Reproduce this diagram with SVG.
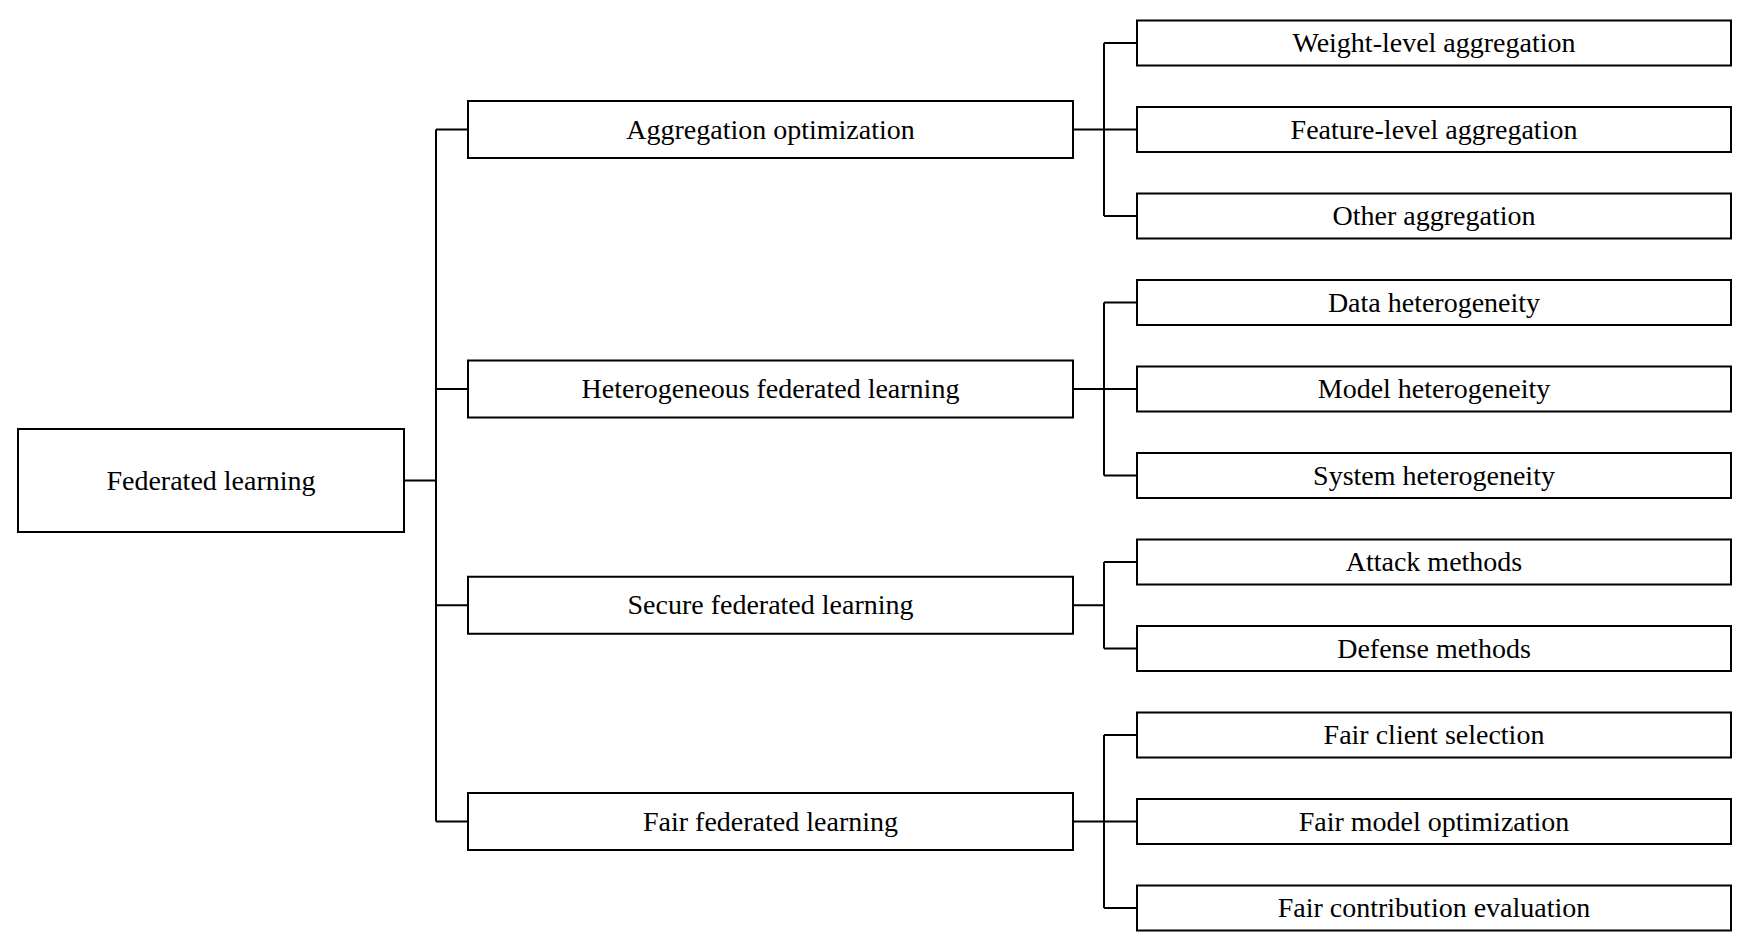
<svg xmlns="http://www.w3.org/2000/svg" width="1743" height="951" viewBox="0 0 1743 951">
<style>
.box{fill:#fff;stroke:#000;stroke-width:2}
.lbl{font-family:"Liberation Serif","Times New Roman",serif;font-size:28px;fill:#000;text-anchor:middle}
.con{fill:none;stroke:#000;stroke-width:2}
</style>
<rect width="1743" height="951" fill="#fff"/>
<g id="connectors" class="con">
<path d="M404,480.5H436M436,129.5V821.5M436,129.5H468M436,389H468M436,605.25H468M436,821.5H468"/>
<path d="M1073,129.5H1104M1104,43V216M1104,43H1137M1104,129.5H1137M1104,216H1137"/>
<path d="M1073,389H1104M1104,302.5V475.5M1104,302.5H1137M1104,389H1137M1104,475.5H1137"/>
<path d="M1073,605.25H1104M1104,562V648.5M1104,562H1137M1104,648.5H1137"/>
<path d="M1073,821.5H1104M1104,735V908M1104,735H1137M1104,821.5H1137M1104,908H1137"/>
</g>
<g id="root"><rect class="box" x="18" y="429" width="386" height="103"/><text class="lbl" x="211" y="489.5">Federated learning</text></g>
<g id="aggregation"><rect class="box" x="468" y="101" width="605" height="57"/><text class="lbl" x="770.5" y="138.5">Aggregation optimization</text></g>
<g id="heterogeneous"><rect class="box" x="468" y="360.5" width="605" height="57"/><text class="lbl" x="770.5" y="398">Heterogeneous federated learning</text></g>
<g id="secure"><rect class="box" x="468" y="576.75" width="605" height="57"/><text class="lbl" x="770.5" y="614.25">Secure federated learning</text></g>
<g id="fair"><rect class="box" x="468" y="793" width="605" height="57"/><text class="lbl" x="770.5" y="830.5">Fair federated learning</text></g>
<g id="weight"><rect class="box" x="1137" y="20.5" width="594" height="45"/><text class="lbl" x="1434" y="52">Weight-level aggregation</text></g>
<g id="feature"><rect class="box" x="1137" y="107" width="594" height="45"/><text class="lbl" x="1434" y="138.5">Feature-level aggregation</text></g>
<g id="other"><rect class="box" x="1137" y="193.5" width="594" height="45"/><text class="lbl" x="1434" y="225">Other aggregation</text></g>
<g id="data"><rect class="box" x="1137" y="280" width="594" height="45"/><text class="lbl" x="1434" y="311.5">Data heterogeneity</text></g>
<g id="model"><rect class="box" x="1137" y="366.5" width="594" height="45"/><text class="lbl" x="1434" y="398">Model heterogeneity</text></g>
<g id="system"><rect class="box" x="1137" y="453" width="594" height="45"/><text class="lbl" x="1434" y="484.5">System heterogeneity</text></g>
<g id="attack"><rect class="box" x="1137" y="539.5" width="594" height="45"/><text class="lbl" x="1434" y="571">Attack methods</text></g>
<g id="defense"><rect class="box" x="1137" y="626" width="594" height="45"/><text class="lbl" x="1434" y="657.5">Defense methods</text></g>
<g id="fairclient"><rect class="box" x="1137" y="712.5" width="594" height="45"/><text class="lbl" x="1434" y="744">Fair client selection</text></g>
<g id="fairmodel"><rect class="box" x="1137" y="799" width="594" height="45"/><text class="lbl" x="1434" y="830.5">Fair model optimization</text></g>
<g id="faircontrib"><rect class="box" x="1137" y="885.5" width="594" height="45"/><text class="lbl" x="1434" y="917">Fair contribution evaluation</text></g>
</svg>
